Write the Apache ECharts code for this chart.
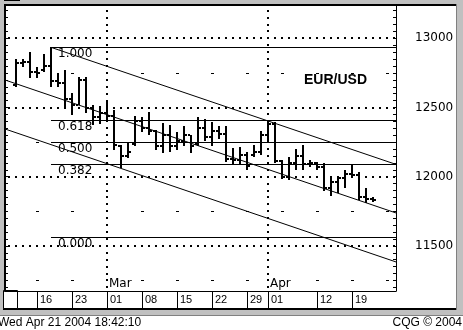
<!DOCTYPE html>
<html><head><meta charset="utf-8">
<script src="https://cdn.jsdelivr.net/npm/echarts@6/dist/echarts.min.js"></script>
<style>html,body{margin:0;padding:0;background:#fff;}#c{width:463px;height:330px;}</style>
</head><body><div id="c"></div>
<script>
// trading days, index 0 = Feb 11 2004 ... index 51 = Apr 22 2004
const dates = ['02-11','02-12','02-13','02-16','02-17','02-18','02-19','02-20','02-23','02-24','02-25','02-26','02-27',
 '03-01','03-02','03-03','03-04','03-05','03-08','03-09','03-10','03-11','03-12','03-15','03-16','03-17','03-18','03-19',
 '03-22','03-23','03-24','03-25','03-26','03-29','03-30','03-31','04-01','04-02','04-05','04-06','04-07','04-08','04-09',
 '04-12','04-13','04-14','04-15','04-16','04-19','04-20','04-21','04-22'];
const opens  = [12660,12820,12830,12760,12770,12800,12690,12680,12560,12520,12700,12500,12430,12460,12440,12220,12150,12240,12400,12350,12330,12220,12300,12220,12260,12300,12240,12350,12290,12330,12310,12130,12120,12160,12160,12180,12300,12380,12110,12000,12100,12150,12090,12100,12070,11920,11960,11990,12020,12010,11850,11840];
const highs  = [12850,12850,12901,12793,12887,12935,12749,12771,12605,12720,12720,12518,12511,12554,12483,12229,12244,12439,12431,12468,12337,12388,12374,12323,12366,12301,12431,12417,12395,12366,12366,12207,12215,12179,12229,12330,12410,12395,12121,12142,12200,12229,12121,12106,12099,11990,12005,12049,12092,12034,11918,11853];
const lows   = [12648,12793,12713,12713,12757,12648,12648,12505,12446,12518,12460,12374,12381,12410,12193,12063,12135,12222,12323,12301,12193,12171,12179,12193,12222,12171,12222,12258,12222,12272,12106,12092,12092,12049,12142,12157,12244,12099,11983,11976,12049,12049,12070,12049,11897,11862,11882,11918,11990,11832,11810,11817];
const closes = [12820,12830,12760,12750,12800,12690,12680,12560,12520,12700,12500,12430,12460,12440,12230,12150,12180,12400,12350,12330,12220,12300,12220,12260,12300,12220,12350,12290,12330,12310,12130,12120,12160,12080,12180,12300,12380,12110,12000,12100,12150,12090,12100,12070,11920,11960,11990,12020,12010,11850,11840,11835];

const weekTickIdx = [3,8,13,18,23,28,33,36,43,48];
const weekTickLabels = ['16','23','01','08','15','22','29','01','12','19'];
const monthIdx = [13,36];
const monthLabels = ['Mar','Apr'];
const priceLabels = [11500,12000,12500,13000];
const gridRows = [11500,12000,12500,13000];
const quarterLevels = [11250,11750,12250,12750];
const weekDashIdx = [3,8,18,23,28,33,38,43,48,53];

const fibRatios = [1,0.618,0.5,0.382,0];
const fibLabels = ['1.000','0.618','0.500','0.382','0.000'];
const fibHigh = 12935, fibLow = 11565, fibStartIdx = 5;

const channelLines = [
  [[5,12935],[54.2857,12089]],
  [[-1.5714,12699],[54.2857,11738]],
  [[-1.5714,12345],[54.2857,11384]]
];

const X_MIN = -1.5714, X_MAX = 54.2857, Y_MIN = 11174, Y_MAX = 13241;
const FONT_NUM = '"DejaVu Sans", sans-serif';
const FONT_TXT = '"Liberation Sans", Arial, sans-serif';

const yTicks = []; for (let v = 11200; v <= 13200; v += 50) yTicks.push(v);

const ohlc = opens.map((o,i)=>[i,o,highs[i],lows[i],closes[i]]);
// grid decoration marks: [x, y, width, height]
const gridMarks = [];
weekDashIdx.forEach(i=>quarterLevels.forEach(v=>gridMarks.push([i,v,3,1])));
monthIdx.forEach(i=>yTicks.forEach(v=>gridMarks.push([i,v,2,2])));

const chart = echarts.init(document.getElementById('c'));
const option = {
  animation:false,
  backgroundColor:'#fff',
  title:{text:'EUR/USD', left:304, top:73, padding:0,
    textStyle:{fontFamily:FONT_TXT, fontSize:14, fontWeight:'bold', color:'#000'}},
  grid:{left:5, right:67, top:5, bottom:39, show:false},
  xAxis:[
    {type:'value', min:X_MIN, max:X_MAX, position:'bottom',
     axisLine:{show:true, onZero:false, lineStyle:{color:'#000', width:1}},
     axisTick:{show:true, inside:false, length:18, customValues:weekTickIdx, lineStyle:{color:'#000', width:1}},
     axisLabel:{show:true, customValues:weekTickIdx, align:'left', padding:[0,0,0,3], margin:3,
       fontFamily:FONT_TXT, fontSize:11, color:'#000',
       formatter:v=>weekTickLabels[weekTickIdx.indexOf(Math.round(v))] || ''},
     splitLine:{show:false}},
    {type:'value', min:X_MIN, max:X_MAX, position:'bottom', offset:0,
     axisLine:{show:false}, axisTick:{show:false},
     axisLabel:{show:true, inside:true, customValues:monthIdx, align:'left', padding:[0,0,0,2], margin:1,
       fontFamily:FONT_NUM, fontSize:12, color:'#000',
       formatter:v=>monthLabels[monthIdx.indexOf(Math.round(v))] || ''},
     splitLine:{show:false}}
  ],
  yAxis:[
    {type:'value', position:'right', min:Y_MIN, max:Y_MAX,
     axisLine:{show:true, onZero:false, lineStyle:{color:'#000', width:1}},
     axisTick:{show:true, inside:true, length:3, customValues:yTicks, lineStyle:{color:'#000'}},
     axisLabel:{show:true, customValues:priceLabels, margin:19, fontFamily:FONT_NUM, fontSize:12, color:'#000',
       formatter:v=>String(v)},
     splitLine:{show:false}, splitArea:{show:false}},
    {type:'value', position:'left', min:Y_MIN, max:Y_MAX,
     axisLine:{show:true, onZero:false, lineStyle:{color:'#000', width:2}},
     axisTick:{show:true, inside:true, length:3, customValues:yTicks, lineStyle:{color:'#000'}},
     axisLabel:{show:false}, splitLine:{show:false}, splitArea:{show:false}}
  ],
  series:[
    {type:'custom', name:'gridmarks', silent:true, clip:false, data:gridMarks,
     renderItem:(p,api)=>{
       const a=api.coord([api.value(0),api.value(1)]);
       const w=api.value(2), h=api.value(3);
       return {type:'rect', shape:{x:Math.round(a[0])-Math.floor(w/2), y:Math.round(a[1])-Math.floor(h/2), width:w, height:h},
         style:{fill:'#000'}};
     }},
    {type:'custom', name:'gridrows', silent:true, clip:false, data:gridRows.map((v,k)=>[0,v,k]),
     renderItem:(p,api)=>{
       const v=api.value(1);
       const kids=[];
       for (let d = -1; d <= 54; d++) {
         const a=api.coord([d,v]);
         kids.push({type:'rect', shape:{x:Math.round(a[0])-1, y:Math.round(a[1])-1, width:2, height:2}, style:{fill:'#000'}});
       }
       return {type:'group', children:kids};
     }},
    {type:'custom', name:'fib', silent:true, clip:false,
     data:fibRatios.map((r,k)=>[fibStartIdx, fibLow + r*(fibHigh-fibLow), k]),
     renderItem:(p,api)=>{
       const a=api.coord([api.value(0),api.value(1)]), b=api.coord([X_MAX,api.value(1)]);
       const y=Math.round(a[1])+0.5;
       return {type:'group', children:[
         {type:'line', shape:{x1:a[0],y1:y,x2:b[0],y2:y}, style:{stroke:'#000', lineWidth:1}},
         {type:'text', style:{x:a[0]+7, y:y+0.5, text:fibLabels[api.value(2)], fill:'#000',
           font:'12px '+FONT_NUM, align:'left', verticalAlign:'top'}}
       ]};
     }},
    ...channelLines.map(d=>({type:'line', data:d, showSymbol:false, symbol:'none', silent:true,
       lineStyle:{color:'#000', width:1}, clip:false})),
    {type:'custom', name:'EUR/USD', clip:false, data:ohlc,
     renderItem:(p,api)=>{
       const x=api.value(0);
       const pO=api.coord([x,api.value(1)]), pH=api.coord([x,api.value(2)]),
             pL=api.coord([x,api.value(3)]), pC=api.coord([x,api.value(4)]);
       const cx=Math.round(pH[0]);
       return {type:'group', children:[
         {type:'rect', shape:{x:cx-1, y:Math.round(pH[1]), width:2, height:Math.max(2,Math.round(pL[1])-Math.round(pH[1]))}, style:{fill:'#000'}},
         {type:'rect', shape:{x:cx-3, y:Math.round(pO[1])-1, width:2, height:2}, style:{fill:'#000'}},
         {type:'rect', shape:{x:cx+1, y:Math.round(pC[1])-1, width:2, height:2}, style:{fill:'#000'}}
       ]};
     }}
  ],
  graphic:[
    {type:'rect', shape:{x:0,y:0,width:463,height:4}, style:{fill:'#c0c0c0'}},
    {type:'rect', shape:{x:0,y:0,width:20,height:1}, style:{fill:'#000'}},
    {type:'rect', shape:{x:0,y:0,width:4,height:316}, style:{fill:'#c0c0c0'}},
    {type:'rect', shape:{x:456,y:0,width:7,height:316}, style:{fill:'#c0c0c0'}},
    {type:'rect', shape:{x:456,y:4,width:1,height:306}, style:{fill:'#808080'}},
    {type:'rect', shape:{x:0,y:310,width:463,height:6}, style:{fill:'#c0c0c0'}},
    {type:'rect', shape:{x:0,y:315,width:463,height:1}, style:{fill:'#808080'}},
    {type:'rect', shape:{x:4,y:4,width:452,height:2}, style:{fill:'#000'}},
    {type:'rect', shape:{x:3,y:308,width:453,height:2}, style:{fill:'#000'}},
    {type:'rect', shape:{x:3.5,y:290.5,width:14,height:18}, style:{fill:'#fff', stroke:'#000', lineWidth:1}},
    {type:'text', style:{x:-2, y:323, text:'Wed Apr 21 2004 18:42:10', fill:'#000', font:'12px '+FONT_TXT, verticalAlign:'middle', align:'left'}},
    {type:'text', style:{x:462, y:323, text:'CQG \u00a9 2004', fill:'#000', font:'12px '+FONT_TXT, verticalAlign:'middle', align:'right'}}
  ]
};
chart.setOption(option);

// dotted price rules, positioned through the chart's own scales
const zr = chart.getZr();
gridRows.forEach(v=>{
  for (let d = -1; d <= 54; d++) {
    const p = chart.convertToPixel({gridIndex:0}, [d, v]);
    if (!p) continue;
    zr.add(new echarts.graphic.Rect({
      shape:{x:Math.round(p[0])-1, y:Math.round(p[1])-1, width:2, height:2},
      style:{fill:'#000'}, z:100, silent:true}));
  }
});
</script>
</body></html>
